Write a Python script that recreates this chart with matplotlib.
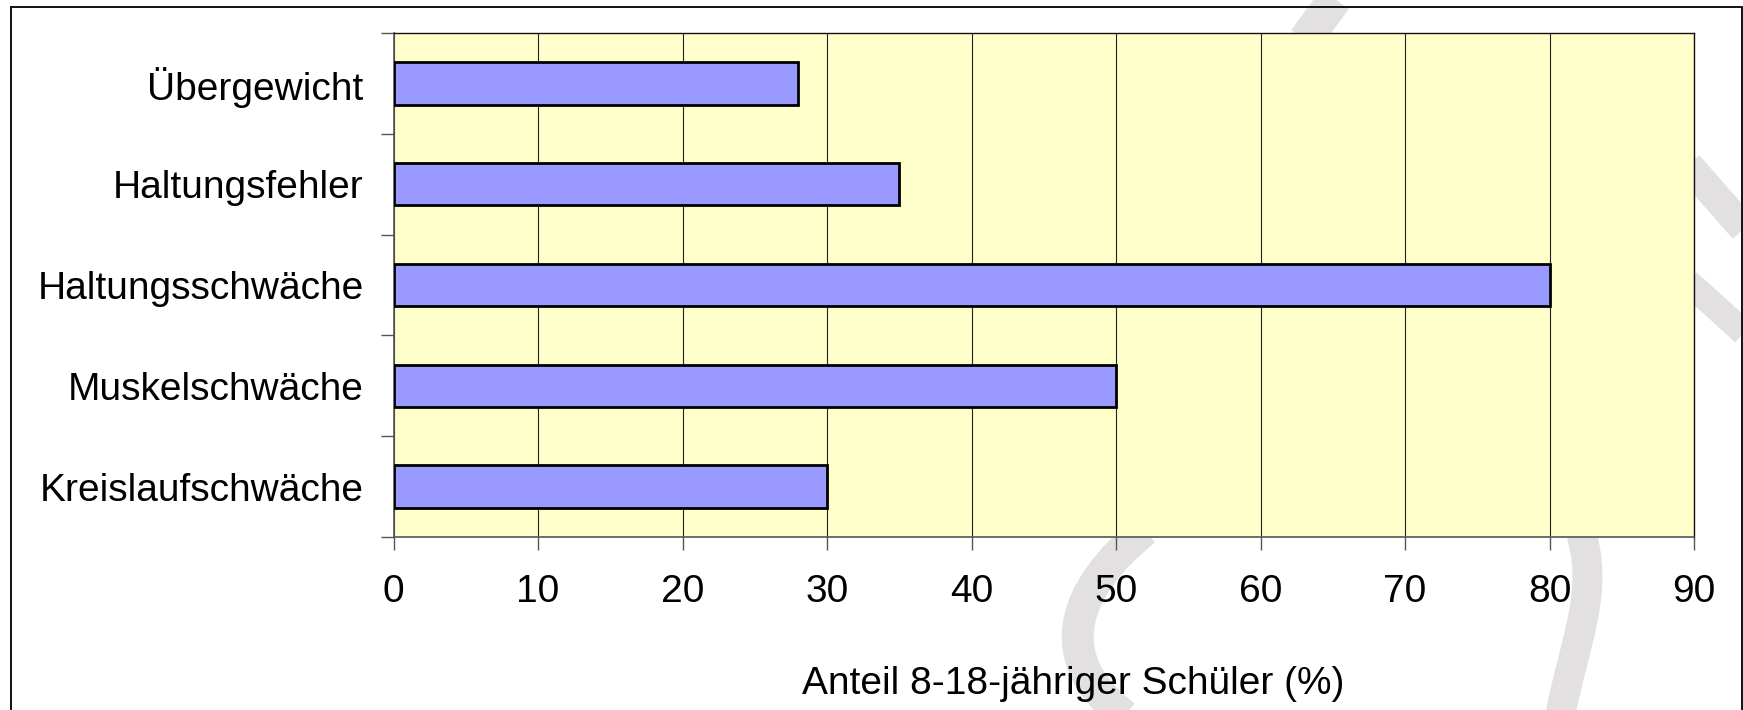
import matplotlib
matplotlib.use("Agg")
import matplotlib.pyplot as plt
import numpy as np
from matplotlib.path import Path
from matplotlib.patches import PathPatch, Rectangle

# Befunde bei Schülern, von oben nach unten
CATEGORIES = ["Übergewicht", "Haltungsfehler", "Haltungsschwäche",
              "Muskelschwäche", "Kreislaufschwäche"]
SHARE_PCT = [28, 35, 80, 50, 30]
X_TICKS = [0, 10, 20, 30, 40, 50, 60, 70, 80, 90]
X_LABEL = "Anteil 8-18-jähriger Schüler (%)"

W, H = 1743, 710
BAR_COLOR = "#9999ff"
PLOT_BG = "#ffffcc"
MARK_GREY = "#e3e0e2"
FONT_SIZE = 28

plt.rcParams["font.family"] = ["Liberation Sans", "DejaVu Sans"]


def px(x, y):
    """Pixel position (origin top-left) -> figure fraction."""
    return x / W, 1 - y / H


def stroke(fig, pts, width, codes=None):
    verts = [px(x, y) for x, y in pts]
    if codes is None:
        codes = [Path.MOVETO] + [Path.LINETO] * (len(verts) - 1)
    patch = PathPatch(Path(verts, codes), fill=False, edgecolor=MARK_GREY,
                      linewidth=width * 72 / 100, capstyle="butt",
                      transform=fig.transFigure, zorder=-5)
    fig.add_artist(patch)


def background_swirl(fig):
    curve = [Path.MOVETO, Path.CURVE4, Path.CURVE4, Path.CURVE4]
    stroke(fig, [(1338, -5), (1305, 40)], 34)
    stroke(fig, [(1688, 165), (1752, 238)], 30)
    stroke(fig, [(1688, 282), (1752, 340)], 26)
    stroke(fig, [(1145, 530), (1070, 590), (1050, 660), (1125, 716)], 32, curve)
    stroke(fig, [(1580, 530), (1600, 590), (1575, 640), (1560, 716)], 30, curve)


fig = plt.figure(figsize=(W / 100, H / 100), dpi=100)
background_swirl(fig)

# outer frame of the chart object (bottom edge runs off the page)
fig.add_artist(Rectangle(px(11, 760), (1742 - 11) / W, (760 - 7) / H,
                         fill=False, edgecolor="#111111", linewidth=1.4,
                         transform=fig.transFigure, clip_on=False, zorder=10))

l, r, t, b = 393.5, 1694, 33, 537
ax = fig.add_axes([l / W, 1 - b / H, (r - l) / W, (b - t) / H])
ax.set_zorder(1)
ax.set_facecolor(PLOT_BG)

y = np.arange(len(CATEGORIES))
ax.barh(y, SHARE_PCT, height=0.42, color=BAR_COLOR, edgecolor="black",
        linewidth=2.0, zorder=3)

ax.set_xlim(0, 90)
ax.set_ylim(len(CATEGORIES) - 0.5, -0.5)

ax.set_xticks(X_TICKS)
ax.set_xticklabels([str(v) for v in X_TICKS], fontsize=FONT_SIZE)
ax.tick_params(axis="x", length=13 * 0.72, width=1, color="#555555",
               pad=17, labelcolor="black")

# category ticks sit between bars, labels centred on them
ax.set_yticks(np.arange(len(CATEGORIES) + 1) - 0.5)
ax.set_yticklabels([])
ax.set_yticks(y, minor=True)
ax.set_yticklabels(CATEGORIES, minor=True, fontsize=FONT_SIZE)
ax.tick_params(axis="y", which="major", length=13 * 0.72, width=1,
               color="#555555")
ax.tick_params(axis="y", which="minor", length=0, pad=21.5)

ax.xaxis.grid(True, color="#222222", linewidth=0.8)
ax.set_axisbelow(True)
for side in ("top", "right"):
    ax.spines[side].set_color("#111111")
    ax.spines[side].set_linewidth(1.0)
for side in ("left", "bottom"):
    ax.spines[side].set_color("#555555")
    ax.spines[side].set_linewidth(1.2)

fig.text(1073 / W, 1 - 694 / H, X_LABEL, ha="center", va="baseline",
         fontsize=FONT_SIZE)

fig.savefig("out.png", dpi=100, facecolor="white")
